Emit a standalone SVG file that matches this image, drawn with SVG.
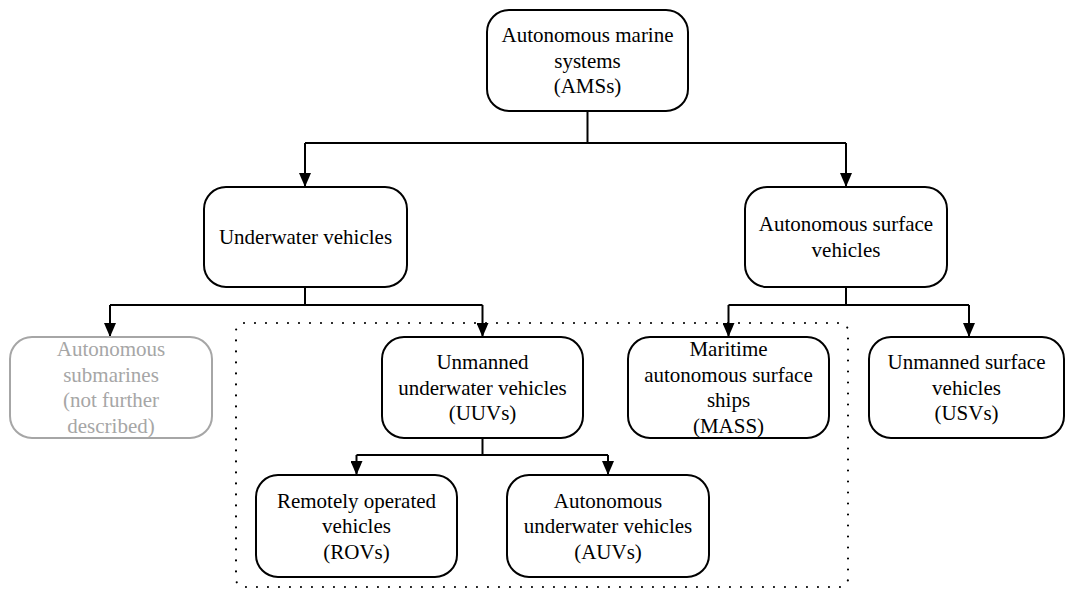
<svg xmlns="http://www.w3.org/2000/svg" width="1066" height="591" viewBox="0 0 1066 591">
  <style>
    .box { fill: #ffffff; stroke: #000000; stroke-width: 2; }
    .box.muted { stroke: #a6a6a6; }
    .lbl { font-family: "Liberation Serif", "Times New Roman", serif; font-size: 21px; fill: #000000; text-anchor: middle; }
    .lbl.muted { fill: #a6a6a6; }
    .wire { fill: none; stroke: #000000; stroke-width: 2; }
    .arrow { fill: none; stroke: #000000; stroke-width: 2; marker-end: url(#head); }
    .scope { fill: none; stroke: #000000; stroke-width: 2.2; stroke-dasharray: 0 11; stroke-linecap: round; }
  </style>
  <defs>
    <marker id="head" markerUnits="userSpaceOnUse" markerWidth="14" markerHeight="12" viewBox="0 0 14 12" refX="14" refY="6" orient="auto">
      <path d="M0,0 L14,6 L0,12 z" fill="#000000"/>
    </marker>
  </defs>

  <rect width="1066" height="591" fill="#ffffff"/>

  <!-- dotted grouping frame around the unmanned vehicle branches -->
  <rect id="unmanned-scope" class="scope" x="236" y="323" width="612" height="264" rx="8"/>

  <g id="connectors">
    <!-- AMS to its two branches -->
    <path class="wire" d="M587.5 111 V143"/>
    <path class="wire" d="M305 143 H846"/>
    <path class="arrow" d="M305 143 V187"/>
    <path class="arrow" d="M846 143 V187"/>
    <!-- underwater vehicles -->
    <path class="wire" d="M305 287 V305"/>
    <path class="wire" d="M110 305 H482.5"/>
    <path class="arrow" d="M110 305 V337"/>
    <path class="arrow" d="M482.5 305 V337"/>
    <!-- surface vehicles -->
    <path class="wire" d="M846 287 V305"/>
    <path class="wire" d="M728.5 305 H969"/>
    <path class="arrow" d="M728.5 305 V337"/>
    <path class="arrow" d="M969 305 V337"/>
    <!-- UUV split -->
    <path class="wire" d="M482.5 438 V455"/>
    <path class="wire" d="M356.5 455 H608"/>
    <path class="arrow" d="M356.5 455 V475"/>
    <path class="arrow" d="M608 455 V475"/>
  </g>

  <g id="ams">
    <rect class="box" x="487" y="10" width="201" height="101" rx="22"/>
    <text class="lbl" x="587.5" y="42">Autonomous marine</text>
    <text class="lbl" x="587.5" y="67.5">systems</text>
    <text class="lbl" x="587.5" y="93">(AMSs)</text>
  </g>

  <g id="underwater">
    <rect class="box" x="204" y="187" width="203" height="100" rx="22"/>
    <text class="lbl" x="305.5" y="244">Underwater vehicles</text>
  </g>

  <g id="surface">
    <rect class="box" x="745" y="187" width="202" height="100" rx="22"/>
    <text class="lbl" x="846" y="231.25">Autonomous surface</text>
    <text class="lbl" x="846" y="256.75">vehicles</text>
  </g>

  <g id="submarines">
    <rect class="box muted" x="10" y="337" width="202" height="101" rx="22"/>
    <text class="lbl muted" x="111" y="356.25">Autonomous</text>
    <text class="lbl muted" x="111" y="381.75">submarines</text>
    <text class="lbl muted" x="111" y="407.25">(not further</text>
    <text class="lbl muted" x="111" y="432.75">described)</text>
  </g>

  <g id="uuv">
    <rect class="box" x="382" y="337" width="201" height="101" rx="22"/>
    <text class="lbl" x="482.5" y="369">Unmanned</text>
    <text class="lbl" x="482.5" y="394.5">underwater vehicles</text>
    <text class="lbl" x="482.5" y="420">(UUVs)</text>
  </g>

  <g id="mass">
    <rect class="box" x="628" y="337" width="201" height="101" rx="22"/>
    <text class="lbl" x="728.5" y="356.25">Maritime</text>
    <text class="lbl" x="728.5" y="381.75">autonomous surface</text>
    <text class="lbl" x="728.5" y="407.25">ships</text>
    <text class="lbl" x="728.5" y="432.75">(MASS)</text>
  </g>

  <g id="usv">
    <rect class="box" x="869" y="337" width="195" height="101" rx="22"/>
    <text class="lbl" x="966.5" y="369">Unmanned surface</text>
    <text class="lbl" x="966.5" y="394.5">vehicles</text>
    <text class="lbl" x="966.5" y="420">(USVs)</text>
  </g>

  <g id="rov">
    <rect class="box" x="256" y="475" width="201" height="102" rx="22"/>
    <text class="lbl" x="356.5" y="507.5">Remotely operated</text>
    <text class="lbl" x="356.5" y="533">vehicles</text>
    <text class="lbl" x="356.5" y="558.5">(ROVs)</text>
  </g>

  <g id="auv">
    <rect class="box" x="507" y="475" width="202" height="102" rx="22"/>
    <text class="lbl" x="608" y="507.5">Autonomous</text>
    <text class="lbl" x="608" y="533">underwater vehicles</text>
    <text class="lbl" x="608" y="558.5">(AUVs)</text>
  </g>
</svg>
